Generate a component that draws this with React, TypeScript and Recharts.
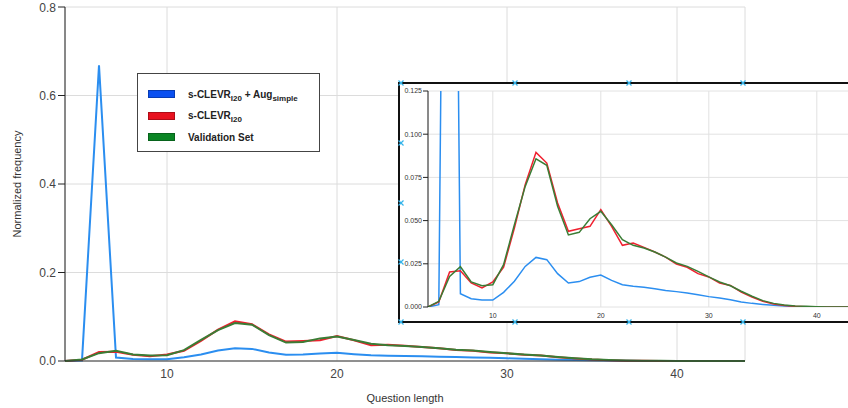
import { CartesianGrid, Line, LineChart, XAxis, YAxis } from "recharts";

// question lengths (x) and normalized frequency for each set
const lengths = [
  4, 5, 6, 7, 8, 9, 10, 11, 12, 13, 14, 15, 16, 17, 18, 19, 20, 21, 22, 23, 24,
  25, 26, 27, 28, 29, 30, 31, 32, 33, 34, 35, 36, 37, 38, 39, 40, 41, 42, 43, 44,
];
const augSimple = [
  0, 0.0013, 0.668, 0.0077, 0.0048, 0.004, 0.004, 0.0085, 0.0149, 0.0235,
  0.0287, 0.0274, 0.0193, 0.0139, 0.0147, 0.0172, 0.0185, 0.0154, 0.0129,
  0.012, 0.0114, 0.0106, 0.0096, 0.0089, 0.0081, 0.0071, 0.006, 0.0052, 0.0042,
  0.0029, 0.0021, 0.0015, 0.001, 0.0006, 0.0002, 0, 0, 0, 0, 0, 0,
];
const clevr = [
  0, 0.0029, 0.0203, 0.021, 0.0139, 0.011, 0.0145, 0.0231, 0.0457, 0.0708,
  0.0895, 0.0833, 0.0602, 0.0438, 0.0453, 0.0467, 0.0563, 0.0467, 0.0357,
  0.037, 0.0345, 0.0318, 0.0289, 0.0249, 0.023, 0.0193, 0.0174, 0.0139, 0.0125,
  0.0087, 0.0058, 0.0033, 0.0017, 0.0008, 0.0004, 0.0002, 0, 0, 0, 0, 0,
];
const validation = [
  0, 0.0033, 0.0177, 0.0233, 0.0145, 0.0123, 0.0129, 0.0245, 0.0476, 0.0698,
  0.0858, 0.082, 0.0583, 0.0417, 0.0432, 0.0511, 0.0554, 0.0476, 0.039,
  0.0357, 0.0341, 0.0318, 0.0289, 0.0255, 0.0235, 0.0206, 0.0174, 0.0145,
  0.0123, 0.0091, 0.0062, 0.0037, 0.0021, 0.0012, 0.0006, 0.0004, 0.0002, 0, 0,
  0, 0,
];

const xTicks = [10, 20, 30, 40];
const mainYTicks = [0, 0.2, 0.4, 0.6, 0.8];
const insetYTicks = [0, 0.025, 0.05, 0.075, 0.1, 0.125];

const data = lengths.map((len, i) => ({
  len,
  aug: augSimple[i],
  clevr: clevr[i],
  val: validation[i],
}));

const BLUE = "#2b8ef0";
const RED = "#f0202f";
const GREEN = "#3a7d35";
const FONT = "'Liberation Sans', Arial, sans-serif";

// little selection handles drawn on the inset frame
const handlesTop = [401, 515, 629, 743];
const handlesLeft = [83, 143, 203, 262, 322];

function Handle({ x, y }: { x: number; y: number }) {
  return (
    <g stroke="#35b4ea" strokeWidth={1.2}>
      <line x1={x - 2.5} y1={y - 2.5} x2={x + 2.5} y2={y + 2.5} />
      <line x1={x - 2.5} y1={y + 2.5} x2={x + 2.5} y2={y - 2.5} />
    </g>
  );
}

function Sub({ children }: { children: string }) {
  return (
    <sub style={{ fontSize: 8, verticalAlign: "baseline", position: "relative", top: 3 }}>
      {children}
    </sub>
  );
}

const legendRows = [
  { color: "#0a50f0", label: <>s-CLEVR<Sub>I20</Sub> + Aug<Sub>simple</Sub></> },
  { color: "#e8111f", label: <>s-CLEVR<Sub>I20</Sub></> },
  { color: "#0a8524", label: <>Validation Set</> },
];

export default function App() {
  return (
    <div
      style={{
        position: "absolute",
        left: 0,
        top: 0,
        width: 848,
        height: 408,
        overflow: "hidden",
        background: "#fff",
        fontFamily: FONT,
      }}
    >
      <LineChart
        width={848}
        height={408}
        data={data}
        margin={{ top: 7, right: 103, left: 0, bottom: 0 }}
      >
        <CartesianGrid stroke="#dcdcdc" strokeWidth={1} />
        <XAxis
          dataKey="len"
          type="number"
          domain={[4, 44]}
          ticks={xTicks}
          height={47}
          tickLine={false}
          axisLine={{ stroke: "#333" }}
          tick={{ fontSize: 12, fill: "#444", fontFamily: FONT }}
          label={{
            value: "Question length",
            position: "insideBottom",
            offset: 6,
            style: { fontSize: 11, fill: "#333", fontFamily: FONT },
          }}
        />
        <YAxis
          type="number"
          domain={[0, 0.8]}
          ticks={mainYTicks}
          width={65}
          tickSize={7}
          tickFormatter={(v: number) => v.toFixed(1)}
          axisLine={{ stroke: "#222" }}
          tickLine={{ stroke: "#222" }}
          tick={{ fontSize: 12, fill: "#444", fontFamily: FONT }}
          label={{
            value: "Normalized frequency",
            angle: -90,
            position: "insideLeft",
            offset: 17,
            style: { fontSize: 11, fill: "#333", fontFamily: FONT, textAnchor: "middle" },
          }}
        />
        <Line type="linear" dataKey="aug" stroke={BLUE} strokeWidth={2} dot={false} isAnimationActive={false} />
        <Line type="linear" dataKey="clevr" stroke={RED} strokeWidth={2} dot={false} isAnimationActive={false} />
        <Line type="linear" dataKey="val" stroke={GREEN} strokeWidth={2} dot={false} isAnimationActive={false} />
      </LineChart>

      {/* legend */}
      <div
        style={{
          position: "absolute",
          left: 137,
          top: 73,
          width: 183,
          height: 79,
          boxSizing: "border-box",
          border: "1px solid #444",
          background: "#fff",
        }}
      >
        {legendRows.map((r, i) => (
          <div
            key={i}
            style={{
              position: "absolute",
              left: 10,
              top: 14 + i * 21.5,
              display: "flex",
              alignItems: "center",
              height: 12,
            }}
          >
            <span
              style={{
                display: "inline-block",
                width: 27,
                height: 8,
                background: r.color,
                border: "1px solid rgba(0,0,0,0.25)",
                boxSizing: "border-box",
              }}
            />
            <span style={{ marginLeft: 13, fontSize: 10, fontWeight: "bold", color: "#222", whiteSpace: "nowrap" }}>
              {r.label}
            </span>
          </div>
        ))}
      </div>

      {/* zoomed inset */}
      <div style={{ position: "absolute", left: 398, top: 82, width: 480, height: 241, background: "#fff" }}>
        <LineChart
          width={464}
          height={241}
          data={data}
          margin={{ top: 9, right: 2, left: 0, bottom: 0 }}
        >
          <CartesianGrid stroke="#e2e2e2" strokeWidth={1} />
          <XAxis
            dataKey="len"
            type="number"
            domain={[4, 44]}
            ticks={xTicks}
            height={16}
            tickLine={false}
            axisLine={false}
            tickSize={4}
            tick={{ fontSize: 7, fill: "#333", fontFamily: FONT }}
          />
          <YAxis
            type="number"
            domain={[0, 0.125]}
            ticks={insetYTicks}
            allowDataOverflow
            width={30}
            tickSize={5}
            tickMargin={1}
            tickFormatter={(v: number) => v.toFixed(3)}
            axisLine={{ stroke: "#222" }}
            tickLine={{ stroke: "#222" }}
            tick={{ fontSize: 7, fill: "#333", fontFamily: FONT }}
          />
          <Line type="linear" dataKey="aug" stroke={BLUE} strokeWidth={1.5} dot={false} isAnimationActive={false} />
          <Line type="linear" dataKey="clevr" stroke={RED} strokeWidth={1.5} dot={false} isAnimationActive={false} />
          <Line type="linear" dataKey="val" stroke={GREEN} strokeWidth={1.5} dot={false} isAnimationActive={false} />
        </LineChart>
      </div>
      <div
        style={{
          position: "absolute",
          left: 398,
          top: 82,
          width: 480,
          height: 241,
          boxSizing: "border-box",
          border: "2px solid #111",
        }}
      />
      <svg width={848} height={408} style={{ position: "absolute", left: 0, top: 0, pointerEvents: "none" }}>
        {handlesTop.map((x) => (
          <Handle key={"t" + x} x={x} y={83} />
        ))}
        {handlesTop.map((x) => (
          <Handle key={"b" + x} x={x} y={322} />
        ))}
        {handlesLeft.slice(1, -1).map((y) => (
          <Handle key={"l" + y} x={401} y={y} />
        ))}
      </svg>
    </div>
  );
}
